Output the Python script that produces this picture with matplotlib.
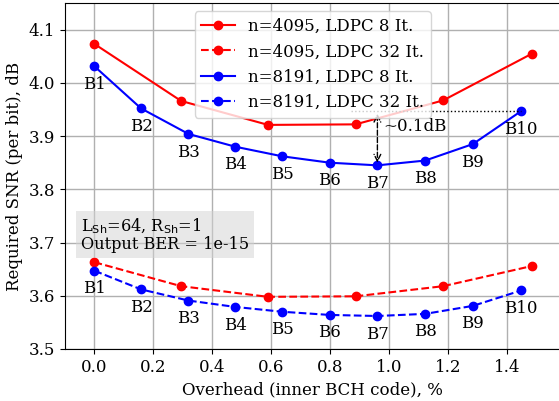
import matplotlib
matplotlib.use("Agg")
import matplotlib.pyplot as plt

plt.rcParams['font.family'] = 'DejaVu Serif'
plt.rcParams['font.size'] = 12

# overhead of inner BCH code, %
oh_4095 = [0.0, 0.294, 0.589, 0.886, 1.183, 1.485]
oh_8191 = [0.0, 0.158, 0.319, 0.478, 0.637, 0.798, 0.960, 1.122, 1.284, 1.448]

# required SNR, dB
snr_4095_8 = [4.073, 3.966, 3.921, 3.922, 3.967, 4.055]
snr_4095_32 = [3.663, 3.618, 3.598, 3.599, 3.618, 3.656]
snr_8191_8 = [4.031, 3.952, 3.904, 3.880, 3.862, 3.850, 3.845, 3.854, 3.885, 3.947]
snr_8191_32 = [3.647, 3.612, 3.591, 3.579, 3.570, 3.564, 3.562, 3.566, 3.581, 3.610]

block_labels = ["B%d" % (i + 1) for i in range(len(oh_8191))]

fig, ax = plt.subplots(figsize=(5.59, 4.01), dpi=100)
fig.subplots_adjust(left=65/559, right=1.002, bottom=1 - 349/401, top=1 - 3/401)

ax.plot(oh_4095, snr_4095_8, 'r-o', markersize=6, label="n=4095, LDPC 8 It.")
ax.plot(oh_4095, snr_4095_32, 'r--o', markersize=6, label="n=4095, LDPC 32 It.")
ax.plot(oh_8191, snr_8191_8, 'b-o', markersize=6, label="n=8191, LDPC 8 It.")
ax.plot(oh_8191, snr_8191_32, 'b--o', markersize=6, label="n=8191, LDPC 32 It.")

# block labels under the n=8191 points
for x, y1, y2, lab in zip(oh_8191, snr_8191_8, snr_8191_32, block_labels):
    ax.annotate(lab, (x, y1), xytext=(0, -13), textcoords='offset points',
                ha='center', va='center')
    ax.annotate(lab, (x, y2), xytext=(0, -13), textcoords='offset points',
                ha='center', va='center')

# ~0.1 dB gap between B7 and B10
ax.plot([0.869, oh_8191[9]], [snr_8191_8[9], snr_8191_8[9]], 'k:', linewidth=1)
ax.annotate("", xy=(oh_8191[6], snr_8191_8[6]), xytext=(oh_8191[6], snr_8191_8[9]),
            arrowprops=dict(arrowstyle='<->', linestyle='--', color='k', lw=1))
ax.text(oh_8191[6] + 0.02, 3.918, "~0.1dB", va='center', ha='left')

ax.text(-0.047, 3.715, "L$_\\mathrm{Sh}$=64, R$_\\mathrm{Sh}$=1\nOutput BER = 1e-15",
        va='center', ha='left', linespacing=1.0, fontsize=11.6,
        bbox=dict(facecolor='lightgray', edgecolor='none', alpha=0.5, pad=3.5))

ax.set_xlim(-0.1, 1.58)
ax.set_ylim(3.5, 4.15)
ax.set_yticks([3.5, 3.6, 3.7, 3.8, 3.9, 4.0, 4.1])
ax.set_xlabel("Overhead (inner BCH code), %")
ax.set_ylabel("Required SNR (per bit), dB")
ax.grid(True, linewidth=1)
ax.legend(loc='upper center')

fig.savefig("out.png", dpi=100)
